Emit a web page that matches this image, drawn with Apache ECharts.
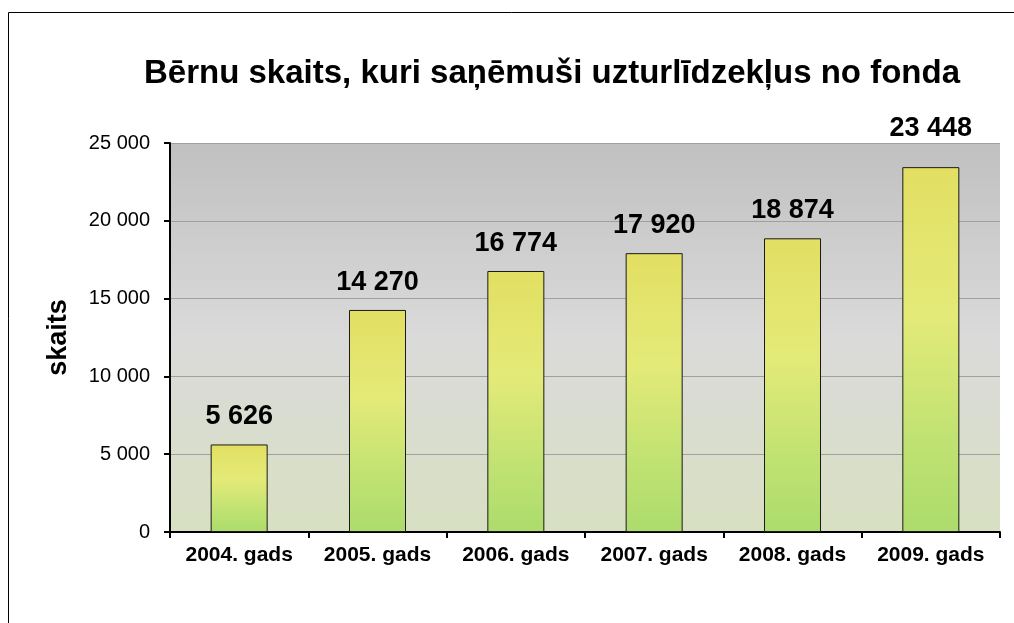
<!DOCTYPE html>
<html>
<head>
<meta charset="utf-8">
<script src="https://cdn.jsdelivr.net/npm/echarts@6/dist/echarts.min.js"></script>
<style>
html,body{margin:0;padding:0;background:#fff;}
#c{width:1014px;height:623px;}
</style>
</head>
<body>
<div id="c"></div>
<script>
const titleText = 'Bērnu skaits, kuri saņēmuši uzturlīdzekļus no fonda';
const categories = ['2004. gads', '2005. gads', '2006. gads', '2007. gads', '2008. gads', '2009. gads'];
const values = [5626, 14270, 16774, 17920, 18874, 23448];
const yTicks = { min: 0, max: 25000, interval: 5000 };
const yName = 'skaits';

const FONT = '"Liberation Sans", Arial, sans-serif';
function fmt(v) { return String(v).replace(/\B(?=(\d{3})+(?!\d))/g, ' '); }

const seriesData = values.map((v, i) => i === values.length - 1
  ? { value: v, label: { distance: 25 } }
  : v);

const chart = echarts.init(document.getElementById('c'), null, { renderer: 'canvas' });
chart.setOption({
  backgroundColor: '#ffffff',
  animation: false,
  title: {
    text: titleText,
    left: 139,
    top: 52,
    textStyle: { fontFamily: FONT, fontSize: 33, fontWeight: 'bold', color: '#000' }
  },
  graphic: [{
    type: 'rect',
    shape: { x: 8.5, y: 12.5, width: 1100, height: 700 },
    style: { fill: 'none', stroke: '#000', lineWidth: 1 },
    silent: true, z: 100
  }],
  grid: {
    left: 170, right: 14, top: 143, bottom: 91,
    show: true,
    borderWidth: 0,
    backgroundColor: new echarts.graphic.LinearGradient(0, 0, 0, 1, [
      { offset: 0, color: '#c0c0c0' },
      { offset: 0.5, color: '#dadada' },
      { offset: 1, color: '#d8e0c2' }
    ])
  },
  xAxis: {
    type: 'category',
    data: categories,
    axisLine: { lineStyle: { color: '#000', width: 2 } },
    axisTick: { show: true, interval: 0, length: 6, lineStyle: { color: '#000', width: 2 } },
    axisLabel: { interval: 0, hideOverlap: false, fontFamily: FONT, fontSize: 21, fontWeight: 'bold', color: '#000', margin: 13 }
  },
  yAxis: {
    type: 'value',
    min: yTicks.min, max: yTicks.max, interval: yTicks.interval,
    name: yName,
    nameLocation: 'middle',
    nameRotate: 90,
    nameGap: 98,
    nameTextStyle: { fontFamily: FONT, fontSize: 27, fontWeight: 'bold', color: '#000' },
    axisLine: { show: true, lineStyle: { color: '#000', width: 2 } },
    axisTick: { show: true, length: 6, lineStyle: { color: '#000', width: 2 } },
    axisLabel: { fontFamily: FONT, fontSize: 20, color: '#000', margin: 20, formatter: v => fmt(v) },
    splitLine: { show: true, lineStyle: { color: '#a0a0a0', width: 1 } }
  },
  series: [{
    type: 'bar',
    data: seriesData,
    barWidth: 57,
    itemStyle: {
      borderColor: '#1a1a1a',
      borderWidth: 1,
      color: new echarts.graphic.LinearGradient(0, 0, 0, 1, [
        { offset: 0, color: '#e2df62' },
        { offset: 0.4, color: '#e4ea78' },
        { offset: 0.75, color: '#c0e272' },
        { offset: 1, color: '#acdc6c' }
      ])
    },
    label: {
      show: true,
      position: 'top',
      distance: 14,
      fontFamily: FONT, fontSize: 27, fontWeight: 'bold', color: '#000',
      formatter: p => fmt(p.value)
    }
  }]
});
</script>
</body>
</html>
